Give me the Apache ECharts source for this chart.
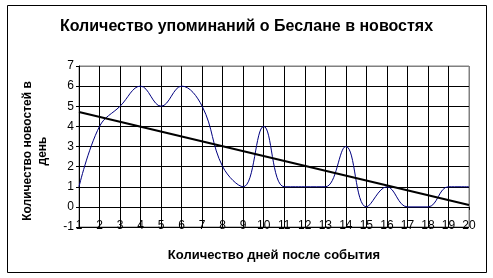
<!DOCTYPE html>
<html><head><meta charset="utf-8">
<script src="https://cdn.jsdelivr.net/npm/echarts@6/dist/echarts.min.js"></script>
<style>html,body{margin:0;padding:0;background:#fff}#c{width:493px;height:278px}</style>
</head><body><div id="c"></div>
<script>
var days = [1,2,3,4,5,6,7,8,9,10,11,12,13,14,15,16,17,18,19,20];
var mentions = [1,4,5,6,5,6,5,2,1,4,1,1,1,3,0,1,0,0,1,1];
var trendDays = [1,20];
var trendValues = [4.71,0.09];
var titleText = 'Количество упоминаний о Беслане в новостях';
var xName = 'Количество дней после события';
var yName = 'Количество новостей в\nдень';

var font = 'Liberation Sans, Arial, sans-serif';
var ySplitColors = ['#000','#000','#000','#000','#000','#000','#000','#000','#808080'];
var xSplitColors = [];
for (var i = 0; i < 19; i++) xSplitColors.push('#000');
xSplitColors.push('#808080');

var chart = echarts.init(document.getElementById('c'));
chart.setOption({
  animation: false,
  backgroundColor: '#fff',
  title: {text: titleText, left: 'center', top: 14,
    textStyle: {fontFamily: font, fontWeight: 'bold', fontSize: 16, color: '#000'}},
  grid: {left: 79, right: 24, top: 66, bottom: 51, show: true, borderColor: '#808080', borderWidth: 1, backgroundColor: '#fff'},
  xAxis: {type: 'value', min: 1, max: 20, interval: 1,
    name: xName, nameLocation: 'middle', nameGap: 22,
    nameTextStyle: {fontFamily: font, fontWeight: 'bold', fontSize: 13, color: '#000'},
    axisLine: {show: true, lineStyle: {color: '#000', width: 1}},
    axisTick: {show: true, length: 3, lineStyle: {color: '#000'}},
    axisLabel: {margin: -7, fontFamily: font, fontSize: 12, color: '#000'},
    splitLine: {show: true, lineStyle: {color: xSplitColors, width: 1}}},
  yAxis: {type: 'value', min: -1, max: 7, interval: 1,
    axisLine: {show: true, onZero: false, lineStyle: {color: '#000', width: 1}},
    axisTick: {show: true, length: 3, lineStyle: {color: '#000'}},
    axisLabel: {margin: 5, fontFamily: font, fontSize: 12, color: '#000'},
    splitLine: {show: true, lineStyle: {color: ySplitColors, width: 1}}},
  graphic: [
    {type: 'rect', shape: {x: 7.5, y: 5.5, width: 479, height: 267}, style: {fill: 'none', stroke: '#000', lineWidth: 1}, z: 100},
    {type: 'text', x: 35, y: 151, rotation: Math.PI/2, style: {text: yName, fontFamily: font, fontWeight: 'bold', fontSize: 12, fill: '#000', align: 'center', verticalAlign: 'middle', lineHeight: 15}, z: 100}
  ],
  series: [
    {type: 'line', data: days.map(function(d,i){return [d, mentions[i]];}), smooth: 0.4, symbol: 'none',
      lineStyle: {color: '#000080', width: 1}, z: 3},
    {type: 'line', data: trendDays.map(function(d,i){return [d, trendValues[i]];}), symbol: 'none',
      lineStyle: {color: '#000', width: 2}, z: 4}
  ]
});
</script></body></html>
